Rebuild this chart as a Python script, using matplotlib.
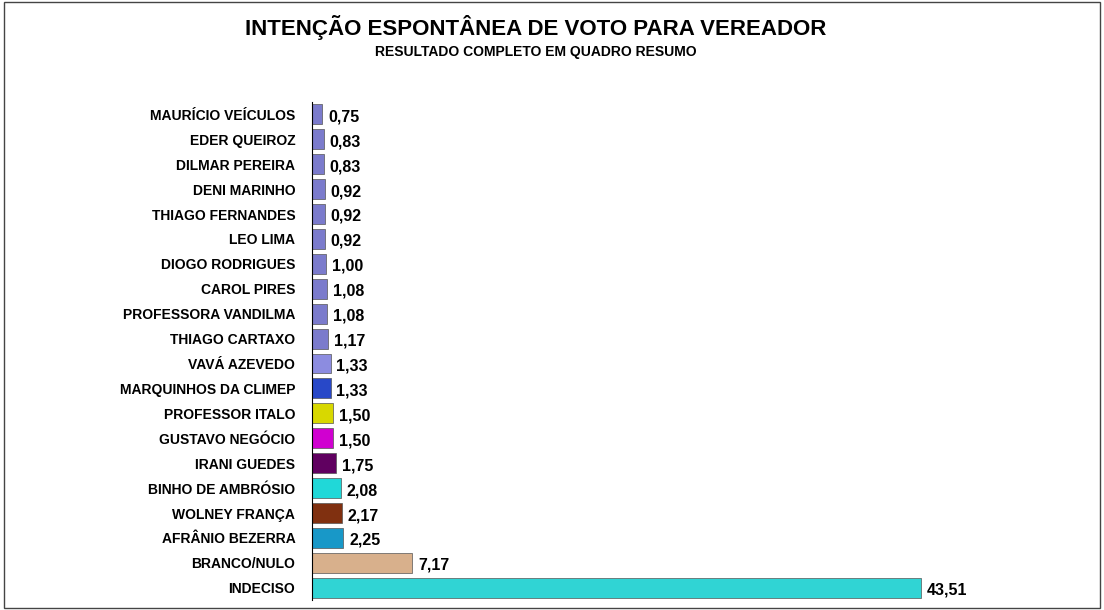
import matplotlib
matplotlib.use('Agg')
import matplotlib.pyplot as plt
from matplotlib.patches import Rectangle

names = ["MAURÍCIO VEÍCULOS", "EDER QUEIROZ", "DILMAR PEREIRA", "DENI MARINHO",
         "THIAGO FERNANDES", "LEO LIMA", "DIOGO RODRIGUES", "CAROL PIRES",
         "PROFESSORA VANDILMA", "THIAGO CARTAXO", "VAVÁ AZEVEDO",
         "MARQUINHOS DA CLIMEP", "PROFESSOR ITALO", "GUSTAVO NEGÓCIO",
         "IRANI GUEDES", "BINHO DE AMBRÓSIO", "WOLNEY FRANÇA", "AFRÂNIO BEZERRA",
         "BRANCO/NULO", "INDECISO"]
values = [0.75, 0.83, 0.83, 0.92, 0.92, 0.92, 1.00, 1.08, 1.08, 1.17, 1.33,
          1.33, 1.50, 1.50, 1.75, 2.08, 2.17, 2.25, 7.17, 43.51]
colors = ["#7b7bcc"] * 10 + ["#8c8ce0", "#2848c8", "#d8d800", "#d000d0",
          "#600060", "#20d8d8", "#803010", "#1898c8", "#d8b08c", "#30d4d4"]

fig = plt.figure(figsize=(11.04, 6.10), dpi=100)
fig.patches.append(Rectangle((0.004, 0.004), 0.992, 0.992, transform=fig.transFigure,
                             fill=False, edgecolor='#444444', linewidth=1))
fig.text(0.485, 0.955, "INTENÇÃO ESPONTÂNEA DE VOTO PARA VEREADOR",
         ha='center', va='center', fontsize=16, fontweight='bold', family='Liberation Sans')
fig.text(0.485, 0.915, "RESULTADO COMPLETO EM QUADRO RESUMO",
         ha='center', va='center', fontsize=10, fontweight='bold', family='Liberation Sans')

ax = fig.add_axes([0.2826, 0.016, 0.71, 0.817])
y = list(range(len(names)))
ax.barh(y, values, height=0.8, color=colors, edgecolor='#555555', linewidth=0.5)
ax.set_ylim(len(names) - 0.5, -0.5)
ax.set_xlim(0, 56)
ax.set_yticks(y)
ax.set_yticklabels(names, fontsize=10, fontweight='bold', family='Liberation Sans')
ax.tick_params(axis='y', length=0, pad=12)
ax.set_xticks([])
for s in ['top', 'right', 'bottom']:
    ax.spines[s].set_visible(False)
for yi, v in zip(y, values):
    ax.text(v + 0.4, yi + 0.1, f"{v:.2f}".replace('.', ','), va='center', ha='left',
            fontsize=11.5, fontweight='bold', family='Liberation Sans')

fig.savefig("out.png", dpi=100)
